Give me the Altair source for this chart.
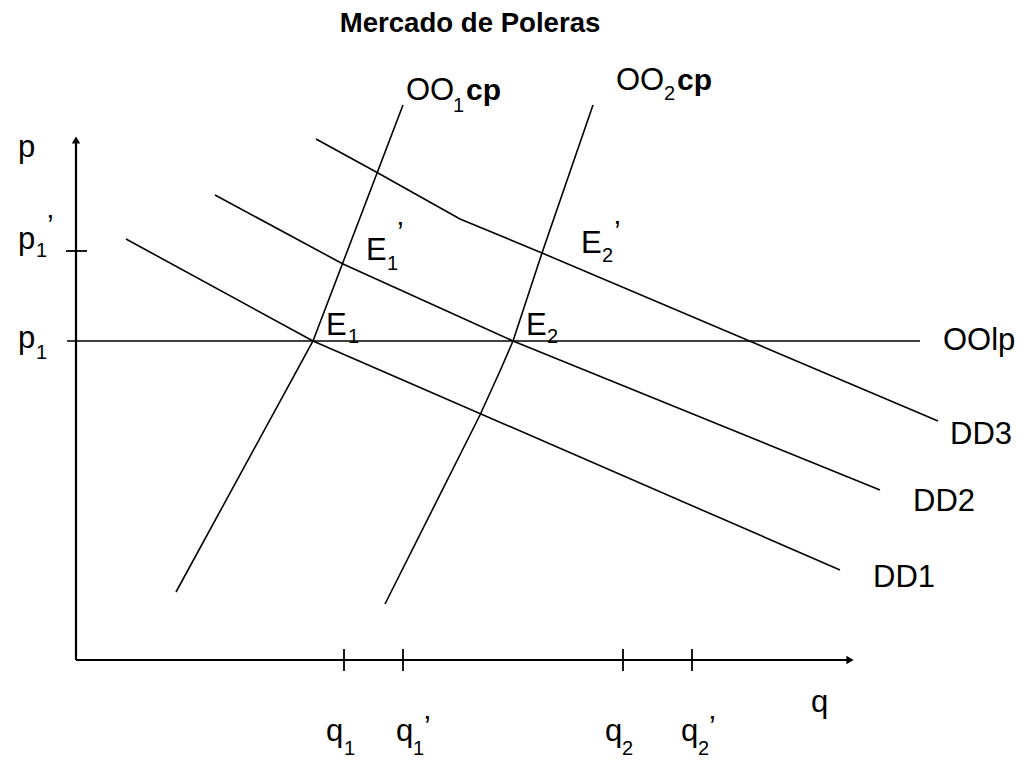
import altair as alt
import pandas as pd

FONT = "Liberation Sans"

# ---- curves (q = quantity to the right, p = price upward, origin at axis corner)
dd1_q = [50, 237, 764]
dd1_p = [421, 319, 90]
dd2_q = [139, 267, 437, 804]
dd2_p = [465, 396, 319, 170]
dd3_q = [240, 302, 384, 466, 862]
dd3_p = [521, 487, 441, 407, 239]
oo1_q = [100, 237, 327]
oo1_p = [68, 319, 555]
oo2_q = [309, 404, 424, 437, 466, 517]
oo2_p = [56, 245, 289, 319, 407, 555]
oolp_q = [-9, 844]
oolp_p = [319, 319]

# ---- axes
x_axis_q = [0, 774]
x_axis_p = [0, 0]
y_axis_q = [0, 0]
y_axis_p = [0, 520]

# ---- tick marks
q_ticks = [268, 327, 547, 616]
p_ticks = [409]
tick_half = 11

# ---- labels: main text
main_text = ["p", "p", "p", "q", "q", "q", "q", "q",
             "OO", "OO", "E", "E", "E", "E",
             "OOlp", "DD3", "DD2", "DD1"]
main_q = [-58, -58, -58, 735, 250, 320, 529, 605,
          330, 540, 250, 290, 450, 505,
          867, 874, 837, 797]
main_p = [503, 411, 312, -52, -81, -81, -81, -81,
          560, 570, 325, 400, 325, 407,
          310, 216, 149, 73]

# bold parts
bold_text = ["cp", "cp"]
bold_q = [390, 601]
bold_p = [560, 570]

# primes
prime_text = ["’", "’", "’", "’", "’"]
prime_q = [-29, 348, 633, 321, 538]
prime_p = [425, -76, -76, 418, 419]

# subscripts
sub_text = ["1", "1", "1", "1", "2", "2", "1", "2", "1", "1", "2", "2"]
sub_q = [-40, -40, 268, 337, 546, 622, 377, 588, 272, 311, 471, 526]
sub_p = [403, 301, -95, -95, -95, -95, 548, 560, 317, 390, 317, 398]

title_text = ["Mercado de Poleras"]
title_q = [394]
title_p = [628]

# ---- tables
rows = []
for name, qs, ps in [("DD1", dd1_q, dd1_p), ("DD2", dd2_q, dd2_p), ("DD3", dd3_q, dd3_p),
                     ("OO1", oo1_q, oo1_p), ("OO2", oo2_q, oo2_p), ("OOlp", oolp_q, oolp_p)]:
    for i, (q, p) in enumerate(zip(qs, ps)):
        rows.append({"curve": name, "i": i, "q": q, "p": p})
curves = pd.DataFrame(rows)

axes_rows = []
for name, qs, ps in [("x", x_axis_q, x_axis_p), ("y", y_axis_q, y_axis_p)]:
    for i, (q, p) in enumerate(zip(qs, ps)):
        axes_rows.append({"axis": name, "i": i, "q": q, "p": p})
axes_df = pd.DataFrame(axes_rows)

ticks_df = pd.DataFrame(
    [{"q": q, "q2": q, "p": -tick_half, "p2": tick_half} for q in q_ticks]
    + [{"q": -10, "q2": tick_half, "p": p, "p2": p} for p in p_ticks]
)

main_df = pd.DataFrame({"t": main_text, "q": main_q, "p": main_p})
bold_df = pd.DataFrame({"t": bold_text, "q": bold_q, "p": bold_p})
prime_df = pd.DataFrame({"t": prime_text, "q": prime_q, "p": prime_p})
sub_df = pd.DataFrame({"t": sub_text, "q": sub_q, "p": sub_p})
title_df = pd.DataFrame({"t": title_text, "q": title_q, "p": title_p})
arrow_up = pd.DataFrame({"q": [y_axis_q[1]], "p": [y_axis_p[1]]})
arrow_right = pd.DataFrame({"q": [x_axis_q[1]], "p": [x_axis_p[1]]})

xs = alt.Scale(domain=[-68, 940], nice=False, zero=False)
ys = alt.Scale(domain=[-100, 652], nice=False, zero=False)
X = lambda f="q": alt.X(f"{f}:Q", scale=xs, axis=None)
Y = lambda f="p": alt.Y(f"{f}:Q", scale=ys, axis=None)

curve_layer = alt.Chart(curves).mark_line(color="black", strokeWidth=1.6).encode(
    x=X(), y=Y(), detail="curve:N", order="i:Q")
axis_layer = alt.Chart(axes_df).mark_line(color="black", strokeWidth=2.2).encode(
    x=X(), y=Y(), detail="axis:N", order="i:Q")
tick_layer = alt.Chart(ticks_df).mark_rule(color="black", strokeWidth=1.8).encode(
    x=X(), x2="q2:Q", y=Y(), y2="p2:Q")
arr_up = alt.Chart(arrow_up).mark_point(shape="triangle-up", filled=True, color="black",
                                        size=70, opacity=1).encode(x=X(), y=Y())
arr_right = alt.Chart(arrow_right).mark_point(shape="triangle-right", filled=True, color="black",
                                              size=70, opacity=1).encode(x=X(), y=Y())

main_layer = alt.Chart(main_df).mark_text(font=FONT, fontSize=31, align="left",
                                          baseline="alphabetic", color="black").encode(
    x=X(), y=Y(), text="t:N")
bold_layer = alt.Chart(bold_df).mark_text(font=FONT, fontSize=30, fontWeight="bold",
                                          align="left", baseline="alphabetic",
                                          color="black").encode(x=X(), y=Y(), text="t:N")
prime_layer = alt.Chart(prime_df).mark_text(font=FONT, fontSize=30, align="left",
                                            baseline="alphabetic", color="black").encode(
    x=X(), y=Y(), text="t:N")
sub_layer = alt.Chart(sub_df).mark_text(font=FONT, fontSize=20, align="left",
                                        baseline="alphabetic", color="black").encode(
    x=X(), y=Y(), text="t:N")
title_layer = alt.Chart(title_df).mark_text(font=FONT, fontSize=27.6, fontWeight="bold",
                                            align="center", baseline="alphabetic",
                                            color="black").encode(x=X(), y=Y(), text="t:N")

chart = alt.layer(
    axis_layer, tick_layer, curve_layer, arr_up, arr_right,
    main_layer, bold_layer, prime_layer, sub_layer, title_layer
).properties(
    width=1008, height=752, padding=0,
    autosize=alt.AutoSizeParams(type="none"),
    background="white"
).configure_view(stroke=None)

chart.save("out.html", embed_options={"renderer": "svg", "actions": False})
